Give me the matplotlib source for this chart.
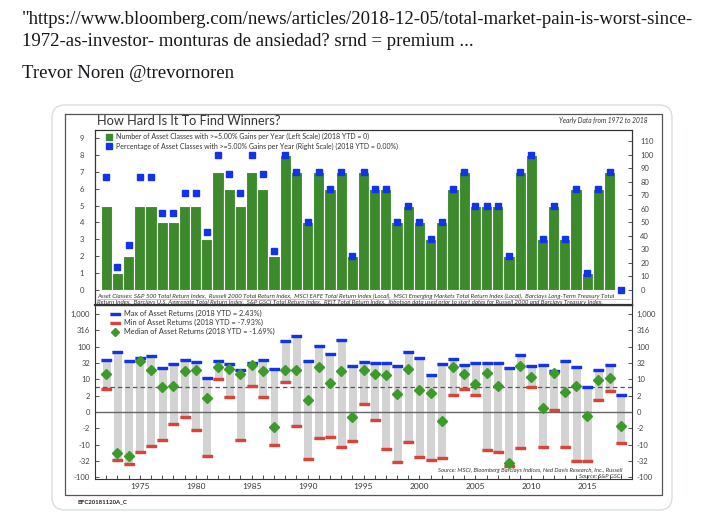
import numpy as np
import matplotlib.pyplot as plt
from matplotlib.patches import FancyBboxPatch
from matplotlib.lines import Line2D
from matplotlib.ticker import FixedLocator, MultipleLocator

plt.rcParams['font.family'] = ['Lato', 'DejaVu Sans']

# ---- data ----
years = np.arange(1972, 2019)

# number of asset classes with >= 5% gain (left scale)
n_classes = [5, 1, 2, 5, 5, 4, 4, 5, 5, 3, 7, 6, 5, 7, 6, 2, 8, 7, 4, 7, 6, 7, 2, 7,
             6, 6, 4, 5, 4, 3, 4, 6, 7, 5, 5, 5, 2, 7, 8, 3, 5, 3, 6, 1, 6, 7, 0]
# percentage of asset classes with >= 5% gain (right scale)
pct_classes = [83.3, 16.7, 33.3, 83.3, 83.3, 57.1, 57.1, 71.4, 71.4, 42.9, 100, 85.7,
               71.4, 100, 85.7, 28.6, 100, 87.5, 50, 87.5, 75, 87.5, 25, 87.5, 75, 75,
               50, 62.5, 50, 37.5, 50, 75, 87.5, 62.5, 62.5, 62.5, 25, 87.5, 100, 37.5,
               62.5, 37.5, 75, 12.5, 75, 87.5, 0]

max_ret = [37.6, 66.8, 34.9, 45.3, 51.2, 21.9, 28, 38.4, 33.9, 10, 36.5, 28.7, 18.4,
           31, 37, 20.3, 146, 218, 35.5, 105, 58, 164, 24.1, 33.2, 31.6, 30.1, 24.8,
           68.2, 43.3, 13, 28, 41.3, 26.7, 31.6, 30, 30, 20.8, 55, 24.1, 26, 17.5, 35,
           23.5, 4.7, 18.4, 26.7, 2.43]
min_ret = [4.2, -28.7, -38.4, -15.5, -10.3, -6.4, -1.4, -0.42, -2.6, -20.9, 9.3, 1.8,
           -6.2, 5.4, 1.8, -9.1, 7.3, -1.6, -26.7, -5.1, -5, -10.6, -6.5, 0.72, -0.72,
           -12.3, -33.2, -7.5, -23, -29.3, -24.2, 2.3, 4.1, 2.3, -13.3, -15.9, -45,
           -11.4, 4.7, -10.9, 0.15, -11, -30, -30, 1.28, 3.3, -7.93]
med_ret = [13.3, -16.7, -20.9, 34.9, 18.4, 4.7, 5.4, 17.1, 18.4, 1.75, 22.4, 20.3, 13.3,
           27, 17.1, -1.8, 18.4, 18.4, 1.33, 22.4, 6.8, 16.7, -0.46, 18, 13.3, 13, 2.65,
           19.4, 3.73, 2.9, -0.89, 22.4, 13.3, 6.4, 15.1, 5.3, -36.6, 24.1, 10.6, 0.3,
           15.1, 3.1, 5.3, -0.33, 8.6, 10.3, -1.69]

ret_tick_labels = ['-100', '-32', '-10', '-2', '0', '2', '10', '32', '100', '316', '1,000']
year_ticks = [1975, 1980, 1985, 1990, 1995, 2000, 2005, 2010, 2015]

W, H = 702, 517


def box(x0, y0, x1, y1):
    return [x0 / W, 1 - y1 / H, (x1 - x0) / W, (y1 - y0) / H]


def fwd(x):
    x = np.asarray(x, dtype=float)
    return np.sign(x) * np.log10(1 + np.abs(x))


def inv(y):
    y = np.asarray(y, dtype=float)
    return np.sign(y) * (10 ** np.abs(y) - 1)


fig = plt.figure(figsize=(W / 100, H / 100), dpi=100)

# background layer in pixel coordinates
bg = fig.add_axes([0, 0, 1, 1])
bg.set_xlim(0, W)
bg.set_ylim(H, 0)
bg.axis('off')

tweet_font = dict(family='Liberation Serif', fontsize=13.5, color='#14171a', va='center')
bg.text(22, 20, '"https://www.bloomberg.com/news/articles/2018-12-05/total-market-pain-is-worst-since-',
        **tweet_font)
bg.text(22, 42, '1972-as-investor- monturas de ansiedad? srnd = premium ...', **tweet_font)
bg.text(22, 73, 'Trevor Noren @trevornoren', **tweet_font)

card = FancyBboxPatch((52, 105), 620, 405, boxstyle='round,pad=0,rounding_size=13',
                      fc='white', ec='#d8dee3', lw=1.0)
bg.add_patch(card)
bg.plot([65, 662, 662, 65, 65], [114, 114, 495, 495, 114], color='#555555', lw=0.9)

bg.text(97, 121, 'How Hard Is It To Find Winners?', fontsize=9.2, color='#333333', va='center')
bg.text(648, 120, 'Yearly Data from 1972 to 2018', fontsize=4.8, style='italic',
        color='#333333', ha='right', va='center')
bg.text(77, 502, 'BFC20181120A_C', fontsize=4.3, weight='bold', color='#222222', va='center')

# ---- top panel ----
ax1 = fig.add_axes(box(95, 130, 632, 305))
ax1.set_facecolor('none')
ax1.bar(years, n_classes, width=1.0, color='#3c8a2b', edgecolor='white', linewidth=0.8)
ax1.set_xlim(1971, 2019)
ax1.set_ylim(-0.89, 9.47)
ax1.set_yticks(range(0, 10))
ax1.set_xticks([])
ax1.tick_params(axis='y', direction='in', length=3, labelsize=5.5, labelcolor='#444444',
                pad=8, color='#333333', width=0.6)
for s in ax1.spines.values():
    s.set_color('#333333')
    s.set_linewidth(0.8)

ax1r = ax1.twinx()
ax1r.plot(years, pct_classes, ls='none', marker='s', ms=4.3, color='#1234e6')
ax1r.set_ylim(-0.89 * 12.5, 9.47 * 12.5)
ax1r.set_yticks(range(0, 111, 10))
ax1r.tick_params(axis='y', direction='in', length=3, labelsize=5.5, labelcolor='#444444',
                 pad=6, color='#333333', width=0.6)
for s in ax1r.spines.values():
    s.set_color('#333333')
    s.set_linewidth(0.8)

top_handles = [
    Line2D([], [], ls='none', marker='s', ms=4.5, color='#3c8a2b'),
    Line2D([], [], ls='none', marker='s', ms=4.0, color='#1234e6'),
]
ax1r.legend(top_handles,
            ['Number of Asset Classes with >=5.00% Gains per Year (Left Scale) (2018 YTD = 0)',
             'Percentage of Asset Classes with >=5.00% Gains per Year (Right Scale) (2018 YTD = 0.00%)'],
            loc='upper left', bbox_to_anchor=(0.01, 1.01), frameon=False, fontsize=5.0,
            handlelength=1.0, handletextpad=0.5, labelspacing=0.35, borderpad=0.2,
            labelcolor='#333333')

note_font = dict(fontsize=4.45, style='italic', color='#333333', va='center',
                 transform=bg.transData, zorder=5)
ax1r.text(97, 296, 'Asset Classes: S&P 500 Total Return Index,  Russell 2000 Total Return Index,  '
          'MSCI EAFE Total Return Index (Local),  MSCI Emerging Markets Total Return Index (Local),  '
          'Barclays Long-Term Treasury Total', **note_font)
ax1r.text(97, 302, 'Return Index,  Barclays U.S. Aggregate Total Return Index,  S&P GSCI Total Return Index,  '
          'REIT Total Return Index.  Ibbotson data used prior to start dates for Russell 2000 and '
          'Barclays Treasury Index.', **note_font)
ax1r.plot([97, 630], [298.8, 298.8], color='#999999', lw=0.4, transform=bg.transData,
          clip_on=False)

# ---- bottom panel ----
ax2 = fig.add_axes(box(95, 305, 632, 479))
ax2.set_facecolor('none')
ax2.set_yscale('function', functions=(fwd, inv))
ax2.set_xlim(1971, 2019)
ax2.set_ylim(float(inv(-2.055)), float(inv(3.28)))

mins = np.array(min_ret)
maxs = np.array(max_ret)
ax2.bar(years, maxs - mins, bottom=mins, width=0.62, color='#d3d3d3',
        edgecolor='#c4c4c4', linewidth=0.4, zorder=1)
ax2.axhline(0, color='#666666', lw=1.0, zorder=2)
ax2.axhline(5, color='#555555', lw=0.9, ls=(0, (3.5, 2.5)), zorder=2)

bar_marker = [(-1, -0.3), (1, -0.3), (1, 0.3), (-1, 0.3)]
ax2.plot(years, max_ret, ls='none', marker=bar_marker, ms=6.5, color='#1234e6', zorder=3)
ax2.plot(years, min_ret, ls='none', marker=bar_marker, ms=6.5, color='#d9433a', zorder=3)
ax2.plot(years, med_ret, ls='none', marker='D', ms=4.6, color='#3c9a2b', zorder=4)

ytick_pos = inv(np.arange(-2, 3.01, 0.5))
ax2.yaxis.set_major_locator(FixedLocator(ytick_pos))
ax2.yaxis.set_minor_locator(FixedLocator([]))
ax2.set_yticklabels(ret_tick_labels)
ax2.tick_params(axis='y', which='both', direction='in', length=3, labelsize=5.5,
                labelcolor='#444444', color='#333333', width=0.6, pad=3.5,
                right=True, labelright=True)
ax2.set_xticks(year_ticks)
ax2.xaxis.set_minor_locator(MultipleLocator(1))
ax2.tick_params(axis='x', which='both', direction='in', length=3, labelsize=6,
                labelcolor='#333333', color='#333333', width=0.6, pad=3)
for s in ax2.spines.values():
    s.set_color('#333333')
    s.set_linewidth(0.8)
ax2.spines['top'].set_linewidth(1.6)

src_font = dict(fontsize=4.2, style='italic', color='#333333', ha='right', va='center',
                transform=bg.transData, zorder=5)
ax2.text(622, 470.5, 'Source: MSCI, Bloomberg Barclays Indices, Ned Davis Research, Inc., Russell',
         **src_font)
ax2.text(622, 476, 'Source: S&P GSCI', **src_font)

bottom_handles = [
    Line2D([], [], ls='none', marker=bar_marker, ms=6.5, color='#1234e6'),
    Line2D([], [], ls='none', marker=bar_marker, ms=6.5, color='#d9433a'),
    Line2D([], [], ls='none', marker='D', ms=4.3, color='#3c9a2b'),
]
ax2.legend(bottom_handles,
           ['Max of Asset Returns (2018 YTD = 2.43%)',
            'Min of Asset Returns (2018 YTD = -7.93%)',
            'Median of Asset Returns (2018 YTD = -1.69%)'],
           loc='upper left', bbox_to_anchor=(0.02, 1.0), frameon=False, fontsize=5.3,
           handlelength=1.2, handletextpad=0.6, labelspacing=0.25, borderpad=0.2,
           labelcolor='#333333')

fig.savefig('out.png', dpi=100)
